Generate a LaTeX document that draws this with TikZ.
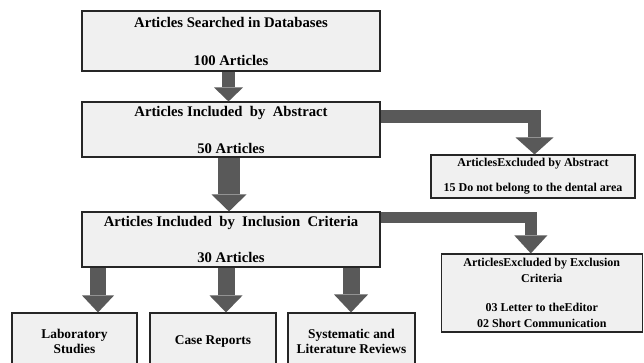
\documentclass[tikz,border=0pt]{standalone}
\usepackage{fontspec}
\setmainfont{Liberation Serif}
\usetikzlibrary{arrows.meta}

\definecolor{boxgray}{HTML}{F0F0F0}
\definecolor{arrowgray}{HTML}{595959}

\begin{document}
\begin{tikzpicture}[x=1pt, y=-1pt,
    box/.style={draw=black!85, fill=boxgray, line width=1.1pt, align=center, inner sep=0pt},
    bigtext/.style={font=\bfseries\fontsize{14.7}{19}\selectfont},
    smalltext/.style={font=\bfseries\fontsize{12}{16}\selectfont},
    midtext/.style={font=\bfseries\fontsize{13.4}{15}\selectfont},
    fatarrow/.style={draw=arrowgray, line width=#1}]
    \clip (0,0) rectangle (644,363);

    % main column
    \node[box, bigtext, minimum width=298pt, minimum height=60pt] (searched) at (231,41)
        {Articles Searched in Databases\\[19pt]100 Articles};
    \node[box, bigtext, minimum width=298pt, minimum height=55pt] (abstract) at (231,129.5)
        {Articles Included\ \ by\ \ Abstract\\[18pt]50 Articles};
    \node[box, bigtext, minimum width=298pt, minimum height=55pt] (inclusion) at (231,239.5)
        {Articles Included\ \ by\ \ Inclusion\ \ Criteria\\[17pt]30 Articles};

    % excluded boxes
    \node[box, smalltext, minimum width=204pt, minimum height=43pt] (exabstract) at (533,176.5)
        {ArticlesExcluded by Abstract\\[9pt]15 Do not belong to the dental area};
    \node[box, smalltext, minimum width=201pt, minimum height=78pt] (excriteria) at (541.8,293)
        {ArticlesExcluded by Exclusion\\Criteria\\[13pt]03 Letter to theEditor\\02 Short Communication};

    % study types
    \node[box, midtext, minimum width=125pt, minimum height=57pt] (lab) at (74.5,341.5)
        {Laboratory\\Studies};
    \node[box, midtext, minimum width=126pt, minimum height=57pt] (cases) at (213,341.5)
        {Case Reports};
    \node[box, midtext, minimum width=127pt, minimum height=57pt] (reviews) at (351.5,341.5)
        {Systematic and\\Literature Reviews};

    % arrows down
    \draw[fatarrow=13pt, -{Triangle[width=29pt, length=14pt, line width=0pt 0 0]}]
        ([xshift=-2.5pt]searched.south) -- ([xshift=-2.5pt]abstract.north);
    \draw[fatarrow=22pt, -{Triangle[width=35pt, length=17pt, line width=0pt 0 0]}]
        ([xshift=-2pt]abstract.south) -- ([xshift=-2pt]inclusion.north);

    % arrows to the right
    \draw[fatarrow=12.5pt, -{Triangle[width=38pt, length=17pt, line width=0pt 0 0]}]
        ([yshift=13.2pt]abstract.east) -| ([xshift=1.5pt]exabstract.north);
    \draw[fatarrow=11.5pt, -{Triangle[width=33pt, length=18pt, line width=0pt 0 0]}]
        ([yshift=22pt]inclusion.east) -| ([xshift=-11pt]excriteria.north);

    % arrows to the study types
    \coordinate (s1) at ([xshift=-133pt]inclusion.south);
    \coordinate (s2) at ([xshift=-5pt]inclusion.south);
    \coordinate (s3) at ([xshift=120pt]inclusion.south);
    \draw[fatarrow=16pt, -{Triangle[width=32pt, length=17pt, line width=0pt 0 0]}] (s1) -- (s1 |- lab.north);
    \draw[fatarrow=17pt, -{Triangle[width=33pt, length=17pt, line width=0pt 0 0]}] (s2) -- (s2 |- cases.north);
    \draw[fatarrow=17pt, -{Triangle[width=34pt, length=18pt, line width=0pt 0 0]}] (s3) -- (s3 |- reviews.north);
\end{tikzpicture}
\end{document}
